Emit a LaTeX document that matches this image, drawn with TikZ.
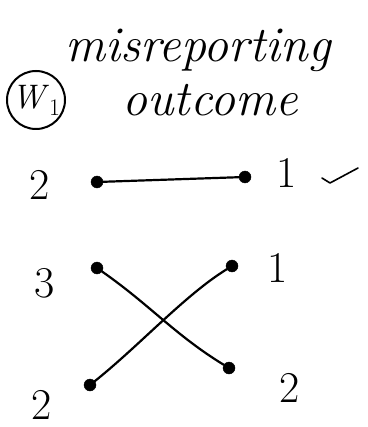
\documentclass[tikz,border=0pt]{standalone}
\usepackage{fontspec}
\begin{document}
\begin{tikzpicture}[x=1pt,y=-1pt,
  dotnode/.style={circle,fill=black,draw=black,inner sep=0pt,minimum size=12pt},
  lbl/.style={font=\fontsize{44}{48}\selectfont,inner sep=0pt},
  ttl/.style={font=\itshape\fontsize{50}{54}\selectfont,inner sep=0pt},
  edge/.style={line width=2.2pt,line cap=round}]
\useasboundingbox (0,0) rectangle (367,427);
% title
\node[ttl] (t1) at (198,50) {misreporting};
\node[ttl] (t2) at (210,100) {outcome};
\node[inner sep=0pt,font=\fontsize{34}{38}\selectfont] (w) at (36,100) {\textit{W}\textsubscript{1}};
\draw[line width=2pt] (w.center) circle (29);
% row 1
\node[lbl] (l1) at (40,185) {2};
\node[dotnode] (a1) at (97,182) {};
\node[dotnode] (b1) at (245,177) {};
\node[lbl] (r1) at (287,173) {1};
\draw[edge] (a1) -- (b1);
\coordinate (c1) at (322,178);
\coordinate (c2) at (330,183);
\coordinate (c3) at (358,168);
\draw[line width=1.6pt,line cap=round,line join=round] (c1) -- (c2) -- (c3);
% rows 2-3
\node[lbl] (l2) at (45,283) {3};
\node[dotnode] (a2) at (97,268) {};
\node[dotnode] (b2) at (232,266) {};
\node[lbl] (r2) at (278,268) {1};
\node[dotnode] (a3) at (90,385) {};
\node[dotnode] (b3) at (229,368) {};
\node[lbl] (l3) at (42,405) {2};
\node[lbl] (r3) at (290,388) {2};
\draw[edge] (a2) .. controls (150,305) and (175,335) .. (b3);
\draw[edge] (b2) .. controls (185,295) and (140,345) .. (a3);
\end{tikzpicture}
\end{document}
